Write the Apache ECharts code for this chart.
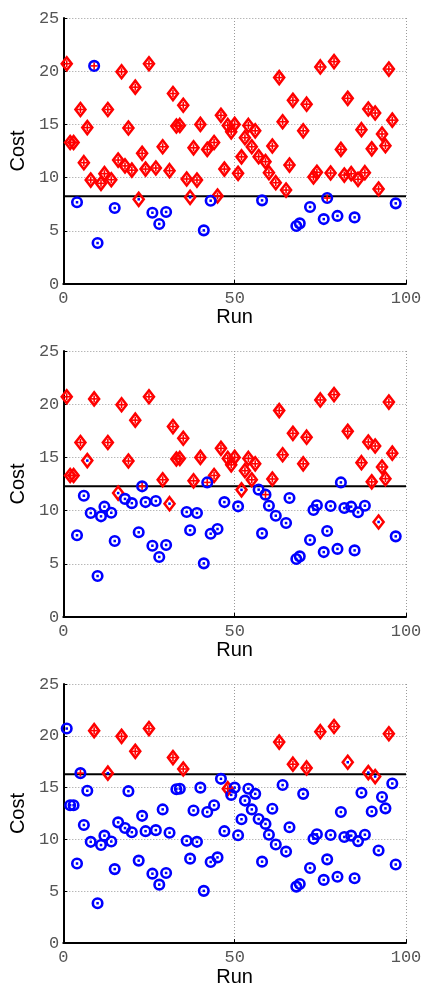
<!DOCTYPE html>
<html><head><meta charset="utf-8">
<script src="https://cdn.jsdelivr.net/npm/echarts@6/dist/echarts.min.js"></script>
<style>html,body{margin:0;padding:0;background:#fff}#c{width:425px;height:988px}</style>
</head><body><div id="c"></div>
<script>
const runs = [1,2,3,4,5,6,7,8,9,10,11,12,13,14,15,16,17,18,19,20,21,22,23,24,25,26,27,28,29,30,31,32,33,34,35,36,37,38,39,40,41,42,43,44,45,46,47,48,49,50,51,52,53,54,55,56,57,58,59,60,61,62,63,64,65,66,67,68,69,70,71,72,73,74,75,76,77,78,79,80,81,82,83,84,85,86,87,88,89,90,91,92,93,94,95,96,97];
const cost = [20.7,13.3,13.3,7.68,16.4,11.4,14.7,9.77,20.5,3.85,9.46,10.37,16.4,9.8,7.14,11.65,19.95,11.1,14.66,10.7,18.5,7.96,12.28,10.8,20.7,6.7,10.9,5.64,12.9,6.77,10.65,17.9,14.85,14.9,16.8,9.87,8.15,12.8,9.77,15.0,5.04,12.65,7.83,13.3,8.27,15.85,10.8,14.9,14.3,15.0,10.4,11.95,13.75,14.9,12.9,14.4,11.97,7.86,11.5,10.46,12.97,9.52,19.4,15.25,8.83,11.18,17.26,5.45,5.7,14.4,16.9,7.24,10.06,10.5,20.4,6.1,8.08,10.43,20.9,6.4,12.65,10.24,17.45,10.37,6.26,9.84,14.5,10.46,16.45,12.7,16.07,8.93,14.1,13.0,20.2,15.4,7.58];
const thresholds = [8.25, 12.3, 16.3];
// runs whose outer marker (prediction) or inner marker (label) differs from the threshold rule
const outerFlips = [[9,22,37],[16,31,42,52,81,92],[1,5,48,91]];
const innerFlips = [[77],[7,23,59,81],[1,13,48,83,89]];
const yTicks = [0,5,10,15,20,25];
const xTicks = [0,50,100];

const tops = [18, 351, 684];
const heights = [266, 266, 264];
const grids = [], xAxes = [], yAxes = [], series = [];
const labelFont = {color:'#555', fontSize:17, fontFamily:'Liberation Mono'};
for (let p = 0; p < 3; p++) {
  grids.push({left:61, width:345, top:tops[p], height:heights[p], containLabel:false});
  xAxes.push({gridIndex:p, type:'value', min:xTicks[0], max:xTicks[xTicks.length-1], interval:50,
    name:'Run', nameLocation:'middle', nameGap:22,
    nameTextStyle:{color:'#000', fontSize:20, fontFamily:'Liberation Sans'},
    axisLine:{show:true, onZero:false, lineStyle:{color:'#000', width:2}},
    axisTick:{show:true, inside:true, length:4, lineStyle:{color:'#000'}},
    axisLabel:Object.assign({margin:6}, labelFont),
    splitLine:{show:true, lineStyle:{type:[1,2], color:'#999', width:1}}});
  yAxes.push({gridIndex:p, type:'value', min:yTicks[0], max:yTicks[yTicks.length-1], interval:5,
    name:'Cost', nameLocation:'middle', nameGap:33, nameRotate:90,
    nameTextStyle:{color:'#000', fontSize:20, fontFamily:'Liberation Sans'},
    axisLine:{show:true, onZero:false, lineStyle:{color:'#000', width:2}},
    axisTick:{show:true, inside:true, length:4, lineStyle:{color:'#000'}},
    axisLabel:Object.assign({margin:4}, labelFont),
    splitLine:{show:true, lineStyle:{type:[1,2], color:'#999', width:1}}});
  const th = thresholds[p];
  const diam = [], circ = [], plus = [], dot = [];
  for (let i = 0; i < runs.length; i++) {
    const r = runs[i], c = cost[i];
    let outerAbove = c > th, innerAbove = c > th;
    if (outerFlips[p].includes(r)) outerAbove = !outerAbove;
    if (innerFlips[p].includes(r)) innerAbove = !innerAbove;
    (outerAbove ? diam : circ).push([r, c]);
    (innerAbove ? plus : dot).push([r, c]);
  }
  series.push({type:'line', xAxisIndex:p, yAxisIndex:p, data:[[0,th],[100,th]], symbol:'none',
    lineStyle:{color:'#000', width:2}, z:3, silent:true, animation:false});
  series.push({type:'scatter', xAxisIndex:p, yAxisIndex:p, data:diam, symbol:'diamond', symbolSize:[10,13],
    itemStyle:{color:'rgba(0,0,0,0)', borderColor:'#ff0000', borderWidth:2.6, opacity:1}, z:4, animation:false});
  series.push({type:'scatter', xAxisIndex:p, yAxisIndex:p, data:circ, symbol:'circle', symbolSize:9.5,
    itemStyle:{color:'rgba(0,0,0,0)', borderColor:'#0000ff', borderWidth:2.6, opacity:1}, z:4, animation:false});
  series.push({type:'scatter', xAxisIndex:p, yAxisIndex:p, data:plus, symbol:'rect', symbolSize:[7,1.6],
    itemStyle:{color:'#ff0000', opacity:1}, z:5, animation:false});
  series.push({type:'scatter', xAxisIndex:p, yAxisIndex:p, data:plus, symbol:'rect', symbolSize:[1.6,7],
    itemStyle:{color:'#ff0000', opacity:1}, z:5, animation:false});
  series.push({type:'scatter', xAxisIndex:p, yAxisIndex:p, data:dot, symbol:'rect', symbolSize:[2.5,2.5],
    itemStyle:{color:'#0000ff', opacity:1}, z:5, animation:false});
}
const chart = echarts.init(document.getElementById('c'), null, {renderer:'canvas'});
chart.setOption({animation:false, backgroundColor:'#fff', grid:grids, xAxis:xAxes, yAxis:yAxes, series:series});
</script></body></html>
